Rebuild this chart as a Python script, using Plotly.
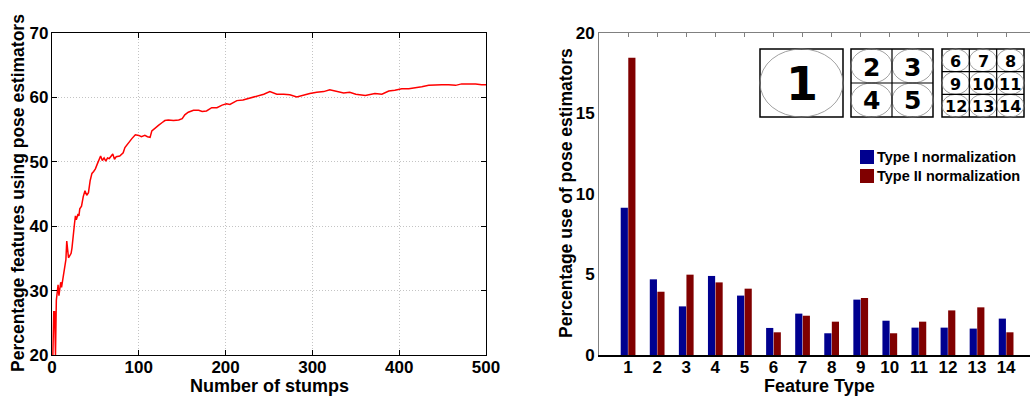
import plotly.graph_objects as go

W, H = 1030, 396


def fx(x):
    return x / W


def fy(y):
    return 1 - y / H


# ---------------- data ----------------
stumps = [1, 2, 3, 4, 5, 6, 7, 8, 9, 10, 11, 12, 13, 15, 16, 17, 18, 19, 20, 22, 23, 24,
          26, 27, 28, 30, 31, 32, 34, 36, 38, 40, 42, 44, 46, 48, 50, 52, 54, 56, 58, 60,
          62, 64, 66, 68, 70, 72, 74, 78, 82, 84, 88, 92, 96, 100, 103, 107, 110, 113,
          115, 119, 123, 127, 130, 134, 140, 146, 150, 153, 157, 163, 169, 173, 178, 184,
          190, 196, 201, 205, 213, 220, 228, 236, 244, 251, 259, 267, 274, 282, 290, 297,
          305, 313, 320, 328, 336, 343, 350, 361, 372, 380, 388, 395, 403, 411, 418, 426,
          434, 441, 449, 457, 465, 472, 480, 488, 495, 500]
pct_pose = [20.0, 26.7, 26.7, 20.0, 28.5, 30.1, 30.9, 29.2, 30.5, 31.3, 30.5, 31.4, 32.2,
            34.2, 34.8, 37.7, 36.4, 35.1, 35.3, 35.8, 36.6, 38.2, 40.5, 41.6, 41.0, 41.9,
            41.6, 42.7, 43.1, 44.6, 45.5, 44.8, 45.2, 47.1, 48.2, 48.5, 48.9, 49.6, 50.3,
            50.9, 50.2, 50.6, 50.1, 50.6, 50.5, 50.9, 51.2, 50.4, 50.8, 50.9, 51.4, 52.2,
            53.0, 53.6, 54.2, 54.1, 53.9, 54.1, 53.9, 53.8, 54.8, 55.3, 55.7, 56.1, 56.4,
            56.5, 56.4, 56.5, 56.7, 57.3, 57.7, 58.0, 58.0, 57.8, 57.9, 58.4, 58.4, 58.8,
            59.0, 58.9, 59.5, 59.6, 59.9, 60.3, 60.5, 60.9, 60.5, 60.5, 60.4, 60.05, 60.4,
            60.6, 60.8, 60.9, 61.2, 60.9, 60.7, 60.8, 60.5, 60.3, 60.6, 60.5, 61.0, 61.1,
            61.35, 61.35, 61.45, 61.66, 61.87, 61.97, 61.97, 61.97, 61.87, 62.1, 62.1,
            62.07, 61.97, 61.97]

feature_types = list(range(1, 15))
type1_norm = [9.15, 4.70, 3.02, 4.91, 3.69, 1.68, 2.57, 1.35, 3.44, 2.13, 1.70, 1.70, 1.64, 2.26]
type2_norm = [18.47, 3.93, 4.99, 4.51, 4.12, 1.41, 2.44, 2.07, 3.54, 1.35, 2.07, 2.77, 2.96, 1.41]

left_xticks = [0, 100, 200, 300, 400, 500]
left_yticks = [20, 30, 40, 50, 60, 70]
right_yticks = [0, 5, 10, 15, 20]

BLUE = "#00008F"
RED = "#800000"
FONT = "Liberation Sans"

fig = go.Figure()

fig.add_trace(go.Scatter(x=stumps, y=pct_pose, mode="lines",
                         line=dict(color="#FF0000", width=1.5),
                         xaxis="x", yaxis="y", showlegend=False))

fig.add_trace(go.Bar(x=feature_types, y=type1_norm, name="Type I normalization",
                     marker=dict(color=BLUE, line=dict(width=0)),
                     xaxis="x2", yaxis="y2", showlegend=False))
fig.add_trace(go.Bar(x=feature_types, y=type2_norm, name="Type II normalization",
                     marker=dict(color=RED, line=dict(width=0)),
                     xaxis="x2", yaxis="y2", showlegend=False))

tickfont = dict(family=FONT, size=17, color="black", weight="bold")

# right-panel x range (axis continues beyond the window)
R_X0, R_X1 = 599, 1030
unit = 29.08
r_range = [0, (R_X1 - R_X0) / unit]

GRID = dict(showgrid=True, gridcolor="#c4c4c4", griddash="1px,2px", gridwidth=1)

layout = dict(
    width=W, height=H, autosize=False,
    margin=dict(l=0, r=0, t=0, b=0, pad=0, autoexpand=False),
    paper_bgcolor="white", plot_bgcolor="white",
    barmode="group", bargap=0.48, bargroupgap=0.05,
    xaxis=dict(domain=[fx(52), fx(486)], anchor="y", range=[0, 500], automargin=False,
               tickvals=left_xticks, ticks="inside", ticklen=5, tickcolor="black",
               showline=True, linecolor="black", linewidth=1.2, mirror="ticks",
               zeroline=False, tickfont=tickfont, ticklabelstandoff=-4, **GRID),
    yaxis=dict(domain=[fy(355), fy(33)], anchor="x", range=[20, 70], automargin=False,
               tickvals=left_yticks, ticks="inside", ticklen=5, tickcolor="black",
               showline=True, linecolor="black", linewidth=1.2, mirror="ticks",
               zeroline=False, tickfont=tickfont, ticklabelstandoff=-1, **GRID),
    xaxis2=dict(domain=[fx(R_X0), 1.0], anchor="y2", range=r_range, automargin=False,
                tickvals=feature_types, ticks="", showline=True, linecolor="black",
                linewidth=1.5, showgrid=False, zeroline=False, tickfont=tickfont,
                ticklabelstandoff=-4),
    xaxis3=dict(domain=[fx(R_X0), 1.0], anchor="y2", overlaying="x2", side="top",
                range=r_range, tickvals=list(range(0, 15)), ticks="inside", ticklen=4,
                tickcolor="#808080", showline=True, linecolor="#808080", linewidth=1,
                showticklabels=False, showgrid=False, zeroline=False, automargin=False),
    yaxis2=dict(domain=[fy(355), fy(33)], anchor="x2", range=[0, 20], automargin=False,
                tickvals=right_yticks, ticks="", showline=True, linecolor="#808080",
                linewidth=1, showgrid=False, zeroline=False, tickfont=tickfont,
                ticklabelstandoff=0),
)
fig.update_layout(**layout)

# invisible trace so the top axis is drawn
fig.add_trace(go.Scatter(x=[1], y=[0], mode="markers", marker=dict(opacity=0),
                         xaxis="x3", yaxis="y2", showlegend=False, hoverinfo="skip"))

ann = []
xtitlefont = dict(family=FONT, size=18, color="black", weight="bold")
ytitlefont = dict(family=FONT, size=17.5, color="black", weight="bold")
ann.append(dict(text="Number of stumps", x=fx(269), y=fy(386), xref="paper", yref="paper",
                showarrow=False, font=xtitlefont, xanchor="center", yanchor="middle"))
ann.append(dict(text="Percentage features using pose estimators", x=fx(18), y=fy(193),
                xref="paper", yref="paper", showarrow=False, font=ytitlefont, textangle=-90,
                xanchor="center", yanchor="middle"))
ann.append(dict(text="Feature Type", x=fx(819), y=fy(386), xref="paper", yref="paper",
                showarrow=False, font=xtitlefont, xanchor="center", yanchor="middle"))
ann.append(dict(text="Percentage use of pose estimators", x=fx(566), y=fy(193),
                xref="paper", yref="paper", showarrow=False, font=ytitlefont, textangle=-90,
                xanchor="center", yanchor="middle"))

# legend (manual)
shapes = []
leg = [("Type I normalization", BLUE, 157), ("Type II normalization", RED, 176)]
for label, col, yc in leg:
    shapes.append(dict(type="rect", xref="paper", yref="paper", x0=fx(860), x1=fx(874),
                       y0=fy(yc + 7), y1=fy(yc - 7), fillcolor=col, line=dict(width=0)))
    ann.append(dict(text=label, x=fx(875), y=fy(yc), xref="paper", yref="paper",
                    showarrow=False, xanchor="left", yanchor="middle",
                    font=dict(family=FONT, size=14.5, color="black", weight="bold")))

# inset: feature type layouts
digit_font = "DejaVu Sans"


def box(x0, x1, y0, y1):
    shapes.append(dict(type="rect", xref="paper", yref="paper", x0=fx(x0), x1=fx(x1),
                       y0=fy(y1), y1=fy(y0), line=dict(color="black", width=1.5),
                       fillcolor="white", layer="above"))


def ell(x0, x1, y0, y1):
    shapes.append(dict(type="circle", xref="paper", yref="paper", x0=fx(x0), x1=fx(x1),
                       y0=fy(y1), y1=fy(y0), line=dict(color="#888888", width=0.8),
                       layer="above"))


def line(x0, y0, x1, y1):
    shapes.append(dict(type="line", xref="paper", yref="paper", x0=fx(x0), x1=fx(x1),
                       y0=fy(y0), y1=fy(y1), line=dict(color="black", width=1.2),
                       layer="above"))


def digit(t, x, y, size):
    ann.append(dict(text=t, x=fx(x), y=fy(y), xref="paper", yref="paper", showarrow=False,
                    xanchor="center", yanchor="middle",
                    font=dict(family=digit_font, size=size, color="black", weight="bold")))


BY0, BY1 = 49, 117
# box 1
box(760, 843, BY0, BY1)
ell(760, 843, BY0, BY1)
digit("1", 801.5, 84, 46)

# box 2 (2x2)
b2x0, b2x1 = 851, 933
box(b2x0, b2x1, BY0, BY1)
cw2, ch2 = (b2x1 - b2x0) / 2, (BY1 - BY0) / 2
n = 2
for r in range(2):
    for c in range(2):
        x0 = b2x0 + c * cw2
        y0 = BY0 + r * ch2
        ell(x0, x0 + cw2, y0, y0 + ch2)
        digit(str(n), x0 + cw2 / 2, y0 + ch2 / 2 + 1, 25)
        n += 1
line(b2x0 + cw2, BY0, b2x0 + cw2, BY1)
line(b2x0, BY0 + ch2, b2x1, BY0 + ch2)

# box 3 (3x3)
b3x0, b3x1 = 942, 1024
box(b3x0, b3x1, BY0, BY1)
cw3, ch3 = (b3x1 - b3x0) / 3, (BY1 - BY0) / 3
n = 6
for r in range(3):
    for c in range(3):
        x0 = b3x0 + c * cw3
        y0 = BY0 + r * ch3
        ell(x0, x0 + cw3, y0, y0 + ch3)
        digit(str(n), x0 + cw3 / 2, y0 + ch3 / 2 + 1, 16)
        n += 1
for k in (1, 2):
    line(b3x0 + k * cw3, BY0, b3x0 + k * cw3, BY1)
    line(b3x0, BY0 + k * ch3, b3x1, BY0 + k * ch3)

fig.update_layout(annotations=ann, shapes=shapes)

fig.write_html("out.html")
